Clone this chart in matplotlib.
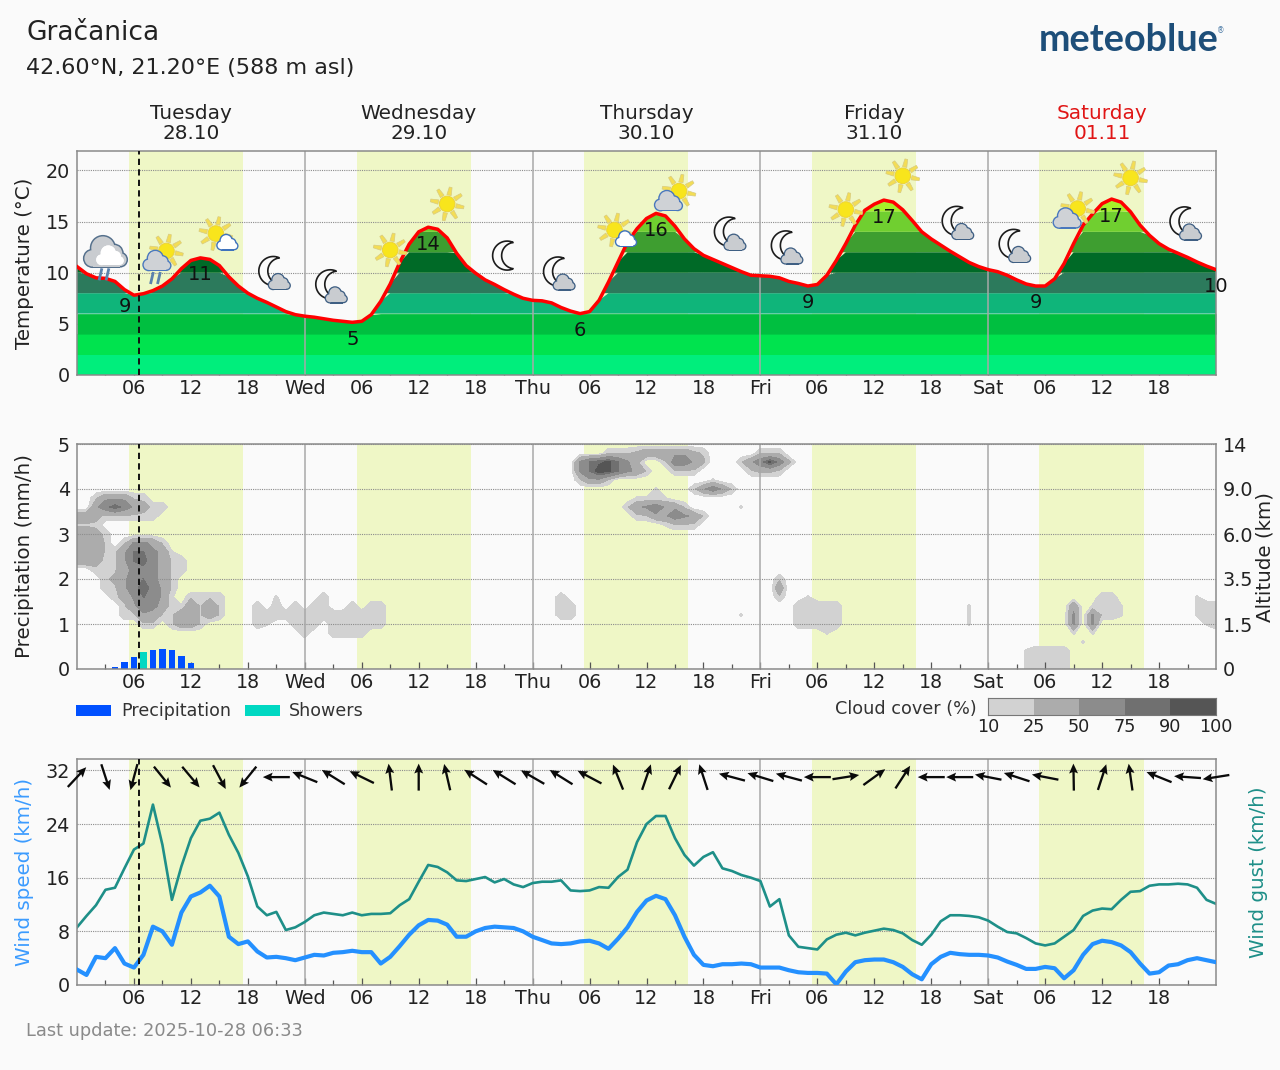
import numpy as np
import matplotlib
matplotlib.use("Agg")
import matplotlib.pyplot as plt
from matplotlib.patches import Circle, Polygon, Rectangle
from matplotlib.colors import ListedColormap

W, H = 1280, 1070
BG = "#fafafa"

DAY_NAMES = ["Tuesday", "Wednesday", "Thursday", "Friday", "Saturday"]
DAY_DATES = ["28.10", "29.10", "30.10", "31.10", "01.11"]
DAY_COLORS = ["#222222", "#222222", "#222222", "#222222", "#e01515"]
TICK_LABELS = ["06", "12", "18", "Wed", "06", "12", "18", "Thu", "06", "12", "18", "Fri",
               "06", "12", "18", "Sat", "06", "12", "18"]
DAYLIGHT = [(5.5, 17.5), (29.5, 41.5), (53.4, 64.4), (77.4, 88.4), (101.4, 112.4)]
NOW_HOUR = 6.5

TEMPERATURE = [10.6, 9.9, 9.5, 9.45, 9.15, 8.35, 7.8, 7.95, 8.25, 8.7, 9.4, 10.4, 11.2, 11.45, 11.3, 10.7,
               9.6, 8.7, 8.0, 7.5, 7.1, 6.65, 6.2, 5.9, 5.75, 5.65, 5.5, 5.35, 5.25, 5.15, 5.25, 5.9,
               7.2, 8.9, 11.0, 12.8, 14.0, 14.45, 14.25, 13.4, 11.9, 10.7, 9.95, 9.3, 8.85, 8.35, 7.9, 7.5,
               7.3, 7.25, 7.05, 6.6, 6.25, 6.0, 6.2, 7.3, 9.1, 11.05, 13.0, 14.3, 15.3, 15.8, 15.55, 14.55,
               13.3, 12.35, 11.7, 11.3, 10.9, 10.5, 10.1, 9.75, 9.7, 9.65, 9.5, 9.15, 8.95, 8.7, 8.85, 9.75,
               11.2, 12.85, 14.65, 16.1, 16.7, 17.1, 16.9, 16.15, 15.1, 14.0, 13.3, 12.7, 12.1, 11.55, 11.0, 10.6,
               10.3, 10.1, 9.75, 9.3, 8.9, 8.7, 8.7, 9.4, 10.9, 12.85, 14.65, 15.75, 16.75, 17.2, 16.9, 15.95,
               14.65, 13.65, 12.85, 12.3, 11.9, 11.5, 11.05, 10.65, 10.3]
BAND_EDGES = [0, 2, 4, 6, 8, 10, 12, 14, 16, 18]
BAND_COLORS = ["#00ee7c", "#00e34e", "#00bf40", "#0fb57a", "#2c7a5c", "#006a27", "#3e9e30", "#70cf30", "#a6f02a"]
EXTREME_HOURS = [5, 13, 29, 37, 53, 61, 77, 85, 101, 109, 120]
EXTREME_LABELS = ["9", "11", "5", "14", "6", "16", "9", "17", "9", "17", "10"]

ICON_HOURS = [3, 9, 15, 21, 27, 33, 39, 45, 51, 57, 63, 69, 75, 81, 87, 93, 99, 105, 111, 117]
ICON_KINDS = ["rain", "sun_rain", "sun_small", "moon_cloud", "moon_cloud", "sun", "sun", "moon",
              "moon_cloud", "sun_small", "sun_grey", "moon_cloud", "moon_cloud", "sun", "sun",
              "moon_cloud", "moon_cloud", "sun_grey", "sun", "moon_cloud"]

RAIN_HOURS = [4, 5, 6, 8, 9, 10, 11, 12]
RAIN_AMOUNT = [0.05, 0.15, 0.27, 0.42, 0.44, 0.42, 0.30, 0.13]
SHOWER_HOURS = [7]
SHOWER_AMOUNT = [0.37]
ALTITUDE_LABELS = ["0", "1.5", "3.5", "6.0", "9.0", "14"]

CLOUD_BOUNDS = [10, 25, 50, 75, 90, 100]
CLOUD_COLORS = ["#d2d2d2", "#acacac", "#8c8c8c", "#707070", "#555555"]
# Shade codes for the cloud table: cover in percent for each character.
CLOUD_CODES = {".": 0, "t": 12, "1": 22, "2": 30, "3": 45, "4": 54, "5": 66, "6": 76, "7": 86, "8": 93, "9": 99}
# (height row on the precipitation scale, first hour, one shade code per hour)
CLOUD_ROWS = [
    (4.8, 56, "11123333321"), (4.8, 72, "111"),
    (4.6, 53, "4678642"), (4.6, 62, "15532"), (4.6, 70, "135852"),
    (4.4, 53, "46986431"), (4.4, 63, "111"), (4.4, 71, "1221"),
    (4.2, 53, "1331"), (4.2, 67, "t"),
    (4.0, 61, "t"), (4.0, 65, "13531"),
    (3.8, 2, "133311"), (3.8, 59, "tttt"),
    (3.6, 2, "35753211"), (3.6, 58, "1345331"), (3.6, 70, "t"),
    (3.4, 0, "332111111"), (3.4, 59, "11335431"),
    (3.2, 0, "111"), (3.2, 62, "t111"),
    (3.0, 0, "3321"),
    (2.8, 0, "3331.14431"),
    (2.6, 0, "3331136643t"),
    (2.4, 0, "332113674311"),
    (2.2, 2, "1113454311"),
    (2.0, 3, "12356431"), (2.0, 74, "1"),
    (1.8, 3, "11357531"), (1.8, 74, "3"),
    (1.6, 4, "124653t"), (1.6, 12, "1111"), (1.6, 21, "t"), (1.6, 26, "1"), (1.6, 51, "1"),
    (1.6, 74, "1"), (1.6, 77, "t"), (1.6, 108, "11"), (1.6, 118, "t"),
    (1.4, 5, "13543t"), (1.4, 11, "t3131"), (1.4, 19, "1"), (1.4, 21, "1"), (1.4, 23, "1"),
    (1.4, 25, "11"), (1.4, 29, "1"), (1.4, 31, "11"), (1.4, 51, "11"), (1.4, 76, "11111"),
    (1.4, 94, "t"), (1.4, 105, "3"), (1.4, 107, "t11t"), (1.4, 118, "t11"),
    (1.2, 5, "11331133131"), (1.2, 19, "11111111111111"), (1.2, 51, "11"), (1.2, 70, "t"),
    (1.2, 76, "11111"), (1.2, 94, "t"), (1.2, 105, "4"), (1.2, 107, "411t"), (1.2, 118, "t11"),
    (1.0, 7, "11.1331"), (1.0, 19, "1t"), (1.0, 23, "111"), (1.0, 27, "111111"), (1.0, 76, "11111"),
    (1.0, 94, "t"), (1.0, 105, "4"), (1.0, 107, "4"), (1.0, 119, "t1"),
    (0.8, 24, "1"), (0.8, 27, "1111"), (0.8, 79, "t"), (0.8, 105, "t"), (0.8, 107, "t"),
    (0.6, 106, "t"),
    (0.4, 100, "t1111"), (0.2, 100, "t1111"), (0.0, 100, "t1111"),
]

WIND_SPEED = [2.3, 1.5, 4.2, 4.0, 5.5, 3.2, 2.6, 4.5, 8.7, 8.0, 6.0, 10.8, 13.2, 13.8, 14.8, 13.2,
              7.2, 6.1, 6.5, 5.0, 4.1, 4.2, 4.0, 3.7, 4.1, 4.5, 4.4, 4.8, 4.9, 5.1, 4.9, 4.9,
              3.2, 4.2, 5.8, 7.5, 8.9, 9.7, 9.6, 9.0, 7.2, 7.2, 8.0, 8.5, 8.7, 8.6, 8.5, 8.0,
              7.2, 6.7, 6.2, 6.1, 6.2, 6.5, 6.6, 6.2, 5.4, 6.9, 8.6, 10.9, 12.6, 13.3, 12.8, 10.4,
              7.2, 4.5, 3.0, 2.8, 3.1, 3.1, 3.2, 3.1, 2.6, 2.6, 2.6, 2.2, 1.9, 1.8, 1.8, 1.7,
              0.1, 2.0, 3.4, 3.7, 3.8, 3.8, 3.4, 2.7, 1.6, 0.85, 3.1, 4.2, 4.8, 4.6, 4.5, 4.5,
              4.4, 4.1, 3.5, 3.0, 2.4, 2.4, 2.7, 2.5, 1.0, 2.2, 4.5, 6.1, 6.6, 6.4, 5.9, 4.9,
              3.2, 1.7, 1.9, 2.9, 3.1, 3.7, 4.0, 3.7, 3.4]
WIND_GUST = [8.6, 10.3, 11.9, 14.2, 14.5, 17.4, 20.2, 21.1, 26.9, 20.9, 12.7, 17.7, 21.9, 24.5, 24.8, 25.7,
             22.4, 19.7, 16.2, 11.7, 10.4, 10.9, 8.2, 8.6, 9.4, 10.4, 10.8, 10.6, 10.4, 10.8, 10.4, 10.6,
             10.6, 10.7, 11.9, 12.8, 15.4, 17.9, 17.6, 16.8, 15.6, 15.5, 15.8, 16.1, 15.3, 15.8, 15.0, 14.6,
             15.2, 15.4, 15.4, 15.6, 14.1, 14.0, 14.1, 14.6, 14.5, 16.1, 17.2, 21.3, 24.0, 25.2, 25.2, 21.9,
             19.4, 17.8, 19.1, 19.8, 17.4, 17.0, 16.4, 16.0, 15.5, 11.7, 12.8, 7.4, 5.7, 5.5, 5.3, 6.8,
             7.5, 7.8, 7.4, 7.8, 8.1, 8.4, 8.2, 7.7, 6.7, 6.0, 7.5, 9.5, 10.4, 10.4, 10.3, 10.1,
             9.6, 8.7, 7.9, 7.7, 7.0, 6.2, 5.9, 6.2, 7.2, 8.2, 10.3, 11.1, 11.4, 11.3, 12.7, 13.9,
             14.0, 14.8, 15.0, 15.0, 15.1, 15.0, 14.5, 12.7, 12.1]
# Arrow heading every third hour, degrees counter-clockwise from east.
WIND_HEADING = [47, -72, -105, -51, -50, -62, -129, 180, 158, 148, 154, 97, 90, 103, 147, 148, 150, 148, 152,
                112, 71, 64, 108, 165, 163, 165, 180, 9, 36, 57, 180, 180, 169, 162, 169, 91, 72, 98, 158,
                176, 189]

plt.rcParams["font.family"] = "DejaVu Sans"
plt.rcParams["text.color"] = "#222222"

hours = np.arange(len(TEMPERATURE))
fig = plt.figure(figsize=(W / 100, H / 100), dpi=100, facecolor=BG)


def panel(top, bottom):
    ax = fig.add_axes([77 / W, 1 - bottom / H, 1139 / W, (bottom - top) / H], facecolor=BG)
    ax.set_xlim(0, 120)
    for start, end in DAYLIGHT:
        ax.axvspan(start, end, color="#eff7c6", lw=0, zorder=0.4)
    for day_start in (24, 48, 72, 96):
        ax.axvline(day_start, color="#a8a8a8", lw=1.1, zorder=1.6)
    ax.axvline(NOW_HOUR, color="#111111", lw=1.4, dashes=(3.2, 2.2), zorder=4)
    ax.set_xticks(np.arange(6, 120, 6), TICK_LABELS)
    ax.set_xticks(np.arange(3, 120, 6), minor=True)
    ax.tick_params(axis="x", which="major", direction="in", length=5.2, width=0.9, color="#555555",
                   labelsize=13.8, pad=2.8, labelcolor="#222222")
    ax.tick_params(axis="x", which="minor", direction="in", length=3.6, width=0.9, color="#555555")
    ax.tick_params(axis="y", length=0, labelsize=13.8, pad=5, labelcolor="#222222")
    ax.grid(axis="y", color="#8c8c8c", lw=0.8, ls=(0, (1, 1)))
    for spine in ax.spines.values():
        spine.set_color("#8a8a8a")
        spine.set_linewidth(1.1)
    return ax


def label_side(ax, text, x_px, color="#222222"):
    ax.yaxis.set_label_coords((x_px - 77) / 1139, 0.5)
    ax.set_ylabel(text, color=color, fontsize=14.3, va="center", rotation=90, rotation_mode="anchor")


# Temperature panel, its dotted grid running behind the coloured bands
ax_t = panel(151, 375)
ax_t.set_axisbelow(True)
ax_t.set_ylim(0, 21.9)
ax_t.set_yticks([0, 5, 10, 15, 20])
label_side(ax_t, "Temperature (°C)", 24)
temperature = np.array(TEMPERATURE)
for low, high, color in zip(BAND_EDGES[:-1], BAND_EDGES[1:], BAND_COLORS):
    ax_t.fill_between(hours, low, np.minimum(temperature, high), where=temperature > low,
                      interpolate=True, color=color, lw=0, zorder=1)
ax_t.plot(hours, temperature, color="#ff0000", lw=2.5, zorder=3, solid_joinstyle="round")
for hour, text in zip(EXTREME_HOURS, EXTREME_LABELS):
    ax_t.annotate(text, (hour, temperature[hour]), xytext=(0, -12.2), textcoords="offset points",
                  ha="center", va="center", fontsize=14, color="#111111", zorder=5)
for i, (name, date, color) in enumerate(zip(DAY_NAMES, DAY_DATES, DAY_COLORS)):
    ax_t.text(12 + 24 * i, 1.035, f"{name}\n{date}", transform=ax_t.get_xaxis_transform(), ha="center",
              va="bottom", fontsize=14.4, color=color, linespacing=1.1)

# Precipitation and cloud panel
ax_p = panel(444, 669)
ax_p.set_ylim(0, 5)
ax_p.set_yticks(range(6))
label_side(ax_p, "Precipitation (mm/h)", 24)
cloud_heights = np.round(np.arange(0, 5.01, 0.2), 1)
cloud = np.zeros((len(cloud_heights), len(hours)))
for height, first, codes in CLOUD_ROWS:
    row = int(round(height / 0.2))
    for offset, code in enumerate(codes):
        cloud[row, first + offset] = CLOUD_CODES[code]
ax_p.contourf(hours, cloud_heights, cloud, levels=CLOUD_BOUNDS, colors=CLOUD_COLORS, zorder=1, extend="neither")
ax_p.bar(RAIN_HOURS, RAIN_AMOUNT, width=0.66, color="#0050ff", zorder=2)
ax_p.bar(SHOWER_HOURS, SHOWER_AMOUNT, width=0.66, color="#00d8c2", zorder=2)
ax_alt = ax_p.twinx()
ax_alt.set_ylim(0, 5)
ax_alt.set_yticks(range(6), ALTITUDE_LABELS)
ax_alt.tick_params(axis="y", length=0, labelsize=13.8, pad=5, labelcolor="#222222")
ax_alt.set_zorder(ax_p.get_zorder() - 1)
ax_alt.yaxis.set_label_coords((1265 - 77) / 1139, 0.5)
ax_alt.set_ylabel("Altitude (km)", fontsize=14.3, color="#222222", va="center", rotation=90, rotation_mode="anchor")
for spine in ax_alt.spines.values():
    spine.set_visible(False)

# Wind panel
ax_w = panel(759, 985)
ax_w.set_ylim(0, 33.7)
ax_w.set_yticks([0, 8, 16, 24, 32])
label_side(ax_w, "Wind speed (km/h)", 24, "#3b9bff")
ax_w.plot(hours, WIND_GUST, color="#1e8f88", lw=1.9, zorder=2)
ax_w.plot(hours, WIND_SPEED, color="#2490ff", lw=3.0, zorder=3)
arrow_hours = np.arange(0, 121, 3)
heading = np.radians(WIND_HEADING)
ax_w.quiver(arrow_hours, np.full(arrow_hours.size, 31.0), 27 * np.cos(heading), 27 * np.sin(heading),
            angles="uv", scale_units="dots", scale=1, units="dots", width=2.3, headwidth=3.9,
            headlength=4.3, headaxislength=3.7, pivot="mid", color="#0a0a0a", zorder=5, clip_on=False)
fig.text(1259 / W, 1 - 872 / H, "Wind gust (km/h)", rotation=90, ha="center", va="center",
         fontsize=14.3, color="#1e8f88")

# Cloud cover colour key
ax_key = fig.add_axes([988 / W, 1 - 715 / H, 228 / W, 17 / H])
ax_key.pcolormesh(np.arange(6), [0, 1], np.arange(5).reshape(1, 5), cmap=ListedColormap(CLOUD_COLORS))
ax_key.set_yticks([])
ax_key.set_xticks(np.arange(6), [str(v) for v in CLOUD_BOUNDS])
ax_key.tick_params(axis="x", length=0, labelsize=12.7, pad=2.5, labelcolor="#222222")
for spine in ax_key.spines.values():
    spine.set_color("#777777")
fig.text(977 / W, 1 - 709 / H, "Cloud cover (%)", ha="right", va="center", fontsize=12.7, color="#333333")

# Everything below is placed in figure pixels on a transparent overlay
over = fig.add_axes([0, 0, 1, 1], facecolor="none", zorder=10)
over.set_xlim(0, W)
over.set_ylim(H, 0)
over.axis("off")


def sun(cx, cy, z=10):
    for angle in np.radians(np.arange(12, 372, 45)):
        d = np.array([np.cos(angle), np.sin(angle)])
        n = np.array([-d[1], d[0]])
        c = np.array([cx, cy])
        pts = [c + d * 9 + n * 2.2, c + d * 17 + n * 1.4, c + d * 17 - n * 1.4, c + d * 9 - n * 2.2]
        over.add_patch(Polygon(pts, fc="#f3dd55", ec="#d8cb80", lw=0.5, zorder=z))
    over.add_patch(Circle((cx, cy), 7.8, fc="#f8e51c", ec="#ecd23a", lw=0.7, zorder=z + 0.1))


def cloud_icon(cx, cy, w, fill, edge, lw=1.5, z=11):
    shapes = [(-0.30, 0.14, 0.19), (-0.06, -0.10, 0.27), (0.20, 0.02, 0.19), (0.34, 0.17, 0.15)]
    for grow, color, zz in ((lw, edge, z), (0, fill, z + 0.1)):
        for dx, dy, r in shapes:
            over.add_patch(Circle((cx + dx * w, cy + dy * w), r * w + grow, fc=color, lw=0, zorder=zz))
        over.add_patch(Rectangle((cx - 0.30 * w, cy + 0.12 * w), 0.64 * w, 0.21 * w + grow,
                                 fc=color, lw=0, zorder=zz))


def moon(cx, cy, z=10):
    outer = np.radians(np.linspace(65, 295, 40))
    inner = np.radians(np.linspace(263, 97, 30))
    pts = [(cx + 3 + 14.5 * np.cos(a), cy - 14.5 * np.sin(a)) for a in outer]
    pts += [(cx + 10.7 + 13.2 * np.cos(a), cy - 13.2 * np.sin(a)) for a in inner]
    over.add_patch(Polygon(pts, fc="#fbfbfb", ec="#1c1c1c", lw=1.2, zorder=z))


def rain(cx, cy, z=12):
    for dx in (-3.5, 3.5):
        over.plot([cx + dx - 1.4, cx + dx + 1.4], [cy + 6, cy - 6], color="#5b82ad", lw=2.0,
                  solid_capstyle="butt", zorder=z)


fig.canvas.draw()
for hour, kind in zip(ICON_HOURS, ICON_KINDS):
    px, py = ax_t.transData.transform((hour, temperature[hour]))
    x, y = px, H - py - 34
    if kind == "sun":
        sun(x, y)
    elif kind == "moon":
        moon(x, y)
    elif kind == "moon_cloud":
        moon(x - 6, y - 2)
        cloud_icon(x + 3, y + 9, 21, "#c9ccd0", "#3f5f83", 1.3)
    elif kind == "sun_small":
        sun(x - 3.5, y + 2)
        cloud_icon(x + 8, y + 11, 20, "#ffffff", "#3f73bd", 1.4)
    elif kind == "sun_grey":
        sun(x + 4, y - 1)
        cloud_icon(x - 6.5, y + 9, 27, "#cfd2d6", "#4a78bd", 1.4)
    elif kind == "sun_rain":
        sun(x + 4, y - 1)
        cloud_icon(x - 5.5, y + 9, 27, "#cfd2d6", "#4a78bd", 1.4)
        rain(x - 7, y + 26)
    elif kind == "rain":
        cloud_icon(x, y + 8, 43, "#c9ccd0", "#55708c", 1.5, z=11)
        cloud_icon(x + 4.5, y + 11.5, 28, "#ffffff", "#ffffff", 0.1, z=11.5)
        rain(x - 1.5, y + 30)

# Rain legend
over.add_patch(Rectangle((76, 705), 35, 11, fc="#0050ff", lw=0))
over.text(121, 711, "Precipitation", ha="left", va="center", fontsize=12.6, color="#333333")
over.add_patch(Rectangle((245, 705), 35, 11, fc="#00d8c2", lw=0))
over.text(289, 711, "Showers", ha="left", va="center", fontsize=12.6, color="#333333")

# Header and footer
over.text(26, 33, "Gračanica", ha="left", va="center", fontsize=19, color="#222222")
over.text(26, 68, "42.60°N, 21.20°E (588 m asl)", ha="left", va="center", fontsize=16, color="#222222")
over.text(1039, 40, "meteoblue", ha="left", va="center", fontsize=27.2, color="#1d4e79", family="Lato", weight="bold")
over.text(1221, 31, "®", ha="center", va="center", fontsize=5.5, color="#4a7aa5")
over.text(26, 1031, "Last update: 2025-10-28 06:33", ha="left", va="center", fontsize=12.8, color="#8a8a8a")

fig.savefig("out.png", dpi=100, facecolor=BG)
